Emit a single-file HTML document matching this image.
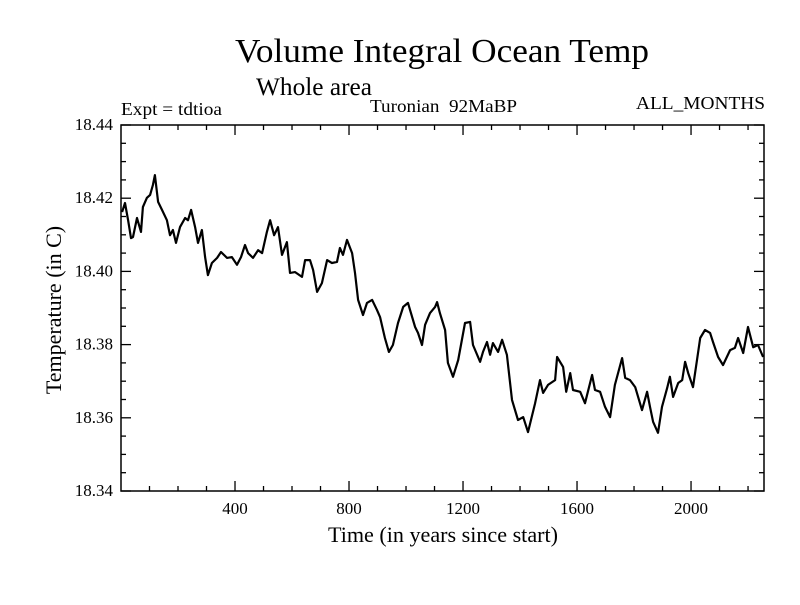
<!DOCTYPE html>
<html><head><meta charset="utf-8"><style>
body{margin:0;background:#fff;}
svg text{font-family:"Liberation Serif",serif;fill:#000;white-space:pre;}
</style></head><body>
<svg id="chart" width="800" height="600" xmlns="http://www.w3.org/2000/svg">
<rect width="800" height="600" fill="#fff"/>
<text x="442" y="62" font-size="34" text-anchor="middle" textLength="414" lengthAdjust="spacingAndGlyphs">Volume Integral Ocean Temp</text>
<text x="314" y="95" font-size="25" text-anchor="middle" textLength="116" lengthAdjust="spacingAndGlyphs">Whole area</text>
<text x="121" y="115" font-size="18" textLength="101" lengthAdjust="spacingAndGlyphs">Expt = tdtioa</text>
<text x="370" y="112" font-size="18" textLength="147" lengthAdjust="spacingAndGlyphs">Turonian  92MaBP</text>
<text x="636" y="109" font-size="18" textLength="129" lengthAdjust="spacingAndGlyphs">ALL_MONTHS</text>
<text x="443" y="542" font-size="22" text-anchor="middle" textLength="230" lengthAdjust="spacingAndGlyphs">Time (in years since start)</text>
<text transform="translate(61,310) rotate(-90)" font-size="22" text-anchor="middle">Temperature (in C)</text>
<g id="axes"></g>
<path id="series" fill="none" stroke="#000" stroke-width="2.2" stroke-linejoin="round"/>
<rect x="121" y="125" width="643" height="366" fill="none" stroke="#000" stroke-width="1.5"/>
</svg>
<script>
const years=[4,14,25,35,42,56,70,77,91,102,112,119,130,144,161,172,182,193,207,225,235,246,260,270,284,295,305,319,337,351,372,389,407,421,435,446,463,481,495,512,523,537,551,565,582,593,611,635,646,663,674,688,705,723,740,758,768,779,793,811,821,832,849,863,881,898,909,926,940,954,972,990,1007,1014,1032,1042,1056,1067,1084,1102,1109,1119,1137,1147,1165,1183,1207,1225,1235,1260,1270,1284,1295,1305,1323,1337,1354,1372,1393,1411,1428,1453,1470,1481,1498,1523,1530,1551,1562,1576,1586,1611,1628,1653,1663,1681,1698,1716,1733,1758,1769,1786,1804,1828,1846,1856,1867,1884,1898,1916,1926,1937,1955,1969,1979,1990,2007,2021,2032,2049,2067,2077,2095,2112,2137,2154,2165,2183,2200,2218,2235,2253];
const temps=[18.4162,18.4187,18.4140,18.4091,18.4094,18.4146,18.4108,18.4176,18.4201,18.4209,18.4236,18.4263,18.4190,18.4168,18.4140,18.4099,18.4113,18.4078,18.4121,18.4146,18.4140,18.4168,18.4121,18.4078,18.4113,18.4039,18.3990,18.4023,18.4037,18.4053,18.4037,18.4039,18.4018,18.4039,18.4072,18.4050,18.4037,18.4058,18.4050,18.4108,18.4140,18.4099,18.4121,18.4045,18.4080,18.3996,18.3998,18.3985,18.4031,18.4031,18.4004,18.3944,18.3968,18.4031,18.4023,18.4026,18.4064,18.4045,18.4086,18.4050,18.3996,18.3922,18.3881,18.3914,18.3922,18.3895,18.3875,18.3818,18.3780,18.3799,18.3859,18.3903,18.3914,18.3895,18.3848,18.3832,18.3799,18.3854,18.3886,18.3903,18.3916,18.3886,18.3840,18.3750,18.3712,18.3758,18.3859,18.3862,18.3799,18.3753,18.3780,18.3807,18.3772,18.3804,18.3780,18.3813,18.3772,18.3649,18.3594,18.3602,18.3561,18.3640,18.3703,18.3668,18.3690,18.3703,18.3766,18.3739,18.3671,18.3722,18.3676,18.3671,18.3640,18.3717,18.3676,18.3671,18.3630,18.3602,18.3690,18.3763,18.3709,18.3703,18.3684,18.3621,18.3671,18.3630,18.3589,18.3559,18.3630,18.3681,18.3712,18.3657,18.3695,18.3703,18.3753,18.3722,18.3684,18.3758,18.3818,18.3840,18.3832,18.3807,18.3766,18.3744,18.3785,18.3791,18.3818,18.3777,18.3848,18.3793,18.3799,18.3766];
const xTicks=[400,800,1200,1600,2000];
const yTicks=[18.34,18.36,18.38,18.40,18.42,18.44];
const xMin=0,xMax=2256,yMin=18.34,yMax=18.44;
const L=121,R=764,T=125,B=491;
function sx(v){return L+(v-xMin)/(xMax-xMin)*(R-L);}
function sy(v){return B-(v-yMin)/(yMax-yMin)*(B-T);}
const NS="http://www.w3.org/2000/svg";
const ax=document.getElementById('axes');
function line(x1,y1,x2,y2,name){const l=document.createElementNS(NS,'line');l.setAttribute('x1',x1);l.setAttribute('y1',y1);l.setAttribute('x2',x2);l.setAttribute('y2',y2);l.setAttribute('stroke','#000');l.setAttribute('stroke-width','1.3');


ax.appendChild(l);}
function text(x,y,s,anchor,name){const t=document.createElementNS(NS,'text');t.setAttribute('x',x);t.setAttribute('y',y);t.setAttribute('font-size','17');t.setAttribute('text-anchor',anchor);t.textContent=s;


ax.appendChild(t);}
for(let v=100;v<xMax;v+=100){const x=sx(v);const maj=v%400===0;const len=maj?10:5;
line(x,B,x,B-len,'x-tick');line(x,T,x,T+len,'x-tick-top');}
xTicks.forEach(v=>text(sx(v),B+23,String(v),'middle','x-tick-label'));
for(let i=0;i<=20;i++){const v=yMin+i*0.005;const y=sy(v);const maj=i%4===0;const len=maj?10:5;
line(L,y,L+len,y,'y-tick');line(R,y,R-len,y,'y-tick-right');}
yTicks.forEach(v=>text(L-8,sy(v)+5,v.toFixed(2),'end','y-tick-label'));
let d='';years.forEach((v,i)=>{d+=(i?'L':'M')+sx(v).toFixed(1)+','+sy(temps[i]).toFixed(1);});
document.getElementById('series').setAttribute('d',d);
</script>
</body></html>
